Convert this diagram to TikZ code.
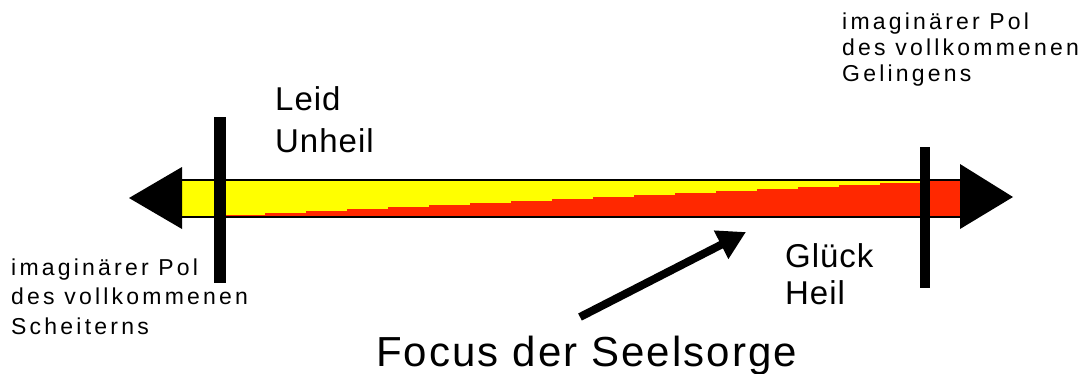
\documentclass[tikz,border=0pt]{standalone}
\usepackage{fontspec}
\setmainfont{Liberation Sans}
\newfontfamily\smallfont[LetterSpace=14]{Liberation Sans}
\newfontfamily\midfont[LetterSpace=3]{Liberation Sans}
\newfontfamily\bigfont[LetterSpace=5]{Liberation Sans}
\usetikzlibrary{arrows.meta}
\definecolor{bandyellow}{RGB}{255,255,0}
\definecolor{bandred}{RGB}{255,40,0}
\begin{document}
\begin{tikzpicture}[x=1pt,y=-1pt,
  small/.style={anchor=base west, inner sep=0pt, font=\smallfont\fontsize{23}{27}\selectfont},
  mid/.style={anchor=base west, inner sep=0pt, font=\midfont\fontsize{33}{40}\selectfont},
  big/.style={anchor=base west, inner sep=0pt, font=\bigfont\fontsize{42}{50}\selectfont},
  bar/.style={fill=black},
  head/.style={fill=black},
  pointer/.style={line width=8pt, -{Triangle[length=28pt,width=30pt]}}]
\useasboundingbox (0,0) rectangle (1084,373);
% band
\fill[bandyellow] (182,180) rectangle (960,217);
\begin{scope}
  \clip (182,180) rectangle (960,217);
  \foreach \k in {0,...,17} {
    \fill[bandred] ({265+41*(\k-1)},{215-2*\k}) rectangle ({265+41*\k},217);
  }
\end{scope}
\draw[line width=2pt] (182,180) -- (960,180);
\draw[line width=2pt] (182,217) -- (960,217);
% arrow heads of the band
\fill[head] (182,167) -- (129,198) -- (182,229) -- cycle;
\fill[head] (960,164) -- (1013,197) -- (960,229) -- cycle;
% poles
\fill[bar] (214,117) rectangle (226,283);
\fill[bar] (920,147) rectangle (930,288);
% texts
\node[small] (tr1) at (842,29) {imaginärer Pol};
\node[small] (tr2) at (842,55) {des vollkommenen};
\node[small] (tr3) at (842,81) {Gelingens};
\node[small] (bl1) at (11,275) {imaginärer Pol};
\node[small] (bl2) at (11,304) {des vollkommenen};
\node[small] (bl3) at (11,334) {Scheiterns};
\node[mid] (leid) at (275,110) {Leid};
\node[mid] (unheil) at (275,152) {Unheil};
\node[mid] (glueck) at (785,267) {Glück};
\node[mid] (heil) at (785,304) {Heil};
\node[big] (focus) at (376,366) {Focus der Seelsorge};
% pointer
\coordinate (ps) at (580,317);
\coordinate (pt) at (746,232);
\draw[pointer] (ps) -- (pt);
\end{tikzpicture}
\end{document}
